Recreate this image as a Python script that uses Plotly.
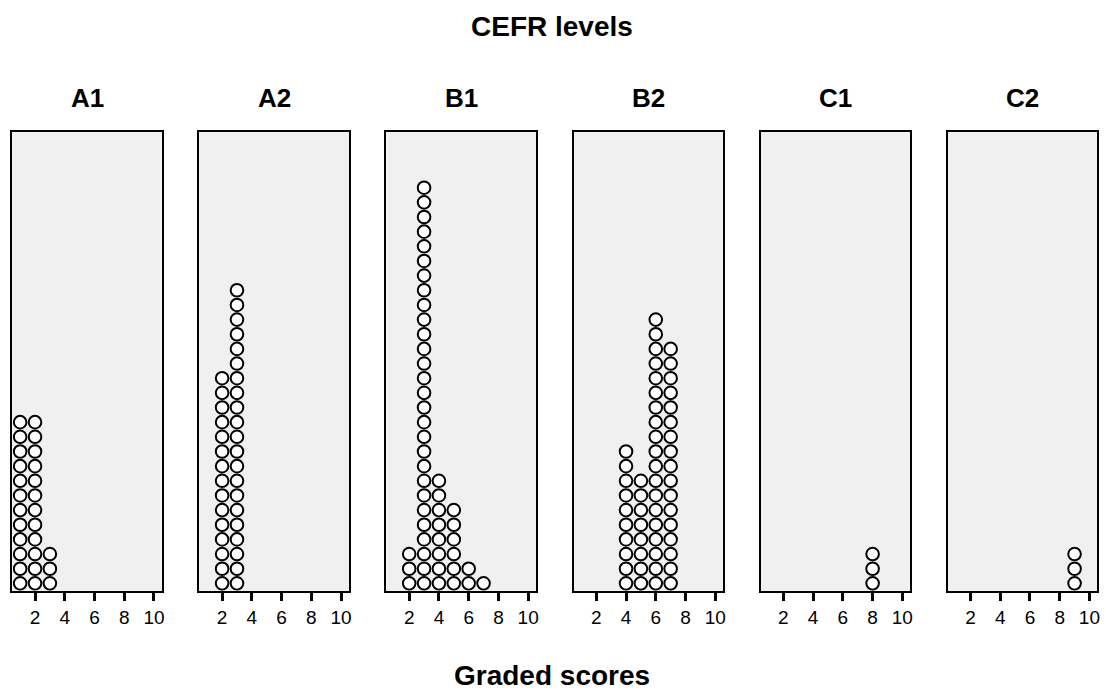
import plotly.graph_objects as go

levels = ["A1", "A2", "B1", "B2", "C1", "C2"]
# counts of students per graded score, for each CEFR level
scores_A1 = [1, 2, 3]
counts_A1 = [12, 12, 3]
scores_A2 = [2, 3]
counts_A2 = [15, 21]
scores_B1 = [2, 3, 4, 5, 6, 7]
counts_B1 = [3, 28, 8, 6, 2, 1]
scores_B2 = [4, 5, 6, 7]
counts_B2 = [10, 8, 19, 17]
scores_C1 = [8]
counts_C1 = [3]
scores_C2 = [9]
counts_C2 = [3]
tick_vals = [2, 4, 6, 8, 10]

data = [(scores_A1, counts_A1), (scores_A2, counts_A2), (scores_B1, counts_B1),
        (scores_B2, counts_B2), (scores_C1, counts_C1), (scores_C2, counts_C2)]

W, H = 1106, 691
FONT = "Liberation Sans, Arial, sans-serif"
fig = go.Figure()

left0, step, pw = 12.3, 187.6, 150.0
y_bot = 1 - 590.7 / H
y_top = 1 - 132.0 / H

layout = {}
annotations = []
for i, (lv, (sc, ct)) in enumerate(zip(levels, data)):
    xs, ys = [], []
    for s, c in zip(sc, ct):
        for k in range(c):
            xs.append(s)
            ys.append(k + 0.5)
    ax = "" if i == 0 else str(i + 1)
    fig.add_trace(go.Scatter(
        x=xs, y=ys, mode="markers", xaxis="x" + ax, yaxis="y" + ax,
        marker=dict(symbol="circle", size=12.6, color="white",
                    line=dict(color="black", width=2)),
        showlegend=False, hoverinfo="x+y"))
    l = (left0 + step * i) / W
    r = (left0 + step * i + pw) / W
    layout["xaxis" + ax] = dict(
        domain=[l, r], range=[0.47, 10.53], tickvals=tick_vals,
        ticks="outside", ticklen=8, tickwidth=2.5, tickcolor="black",
        showline=True, linecolor="black", linewidth=2, mirror=True,
        showgrid=False, zeroline=False, anchor="y" + ax,
        tickfont=dict(family=FONT, size=19, color="black"))
    layout["yaxis" + ax] = dict(
        domain=[y_bot, y_top], range=[0, 31.3], showticklabels=False,
        ticks="", showline=True, linecolor="black", linewidth=2, mirror=True,
        showgrid=False, zeroline=False, anchor="x" + ax)
    annotations.append(dict(
        text="<b>%s</b>" % lv, x=(l + r) / 2, y=1 - 98 / H, xref="paper", yref="paper",
        showarrow=False, xanchor="center", yanchor="middle",
        font=dict(family=FONT, size=26, color="black")))

annotations.append(dict(text="<b>CEFR levels</b>", x=553 / W, y=1 - 27 / H,
                        xref="paper", yref="paper", showarrow=False,
                        xanchor="center", yanchor="middle",
                        font=dict(family=FONT, size=28, color="black")))
annotations.append(dict(text="<b>Graded scores</b>", x=553 / W, y=1 - 675 / H,
                        xref="paper", yref="paper", showarrow=False,
                        xanchor="center", yanchor="middle",
                        font=dict(family=FONT, size=28, color="black")))

fig.update_layout(
    width=W, height=H, margin=dict(l=0, r=0, t=0, b=0),
    paper_bgcolor="white", plot_bgcolor="#f0f0f0",
    annotations=annotations, **layout)

fig.write_html("out.html")
